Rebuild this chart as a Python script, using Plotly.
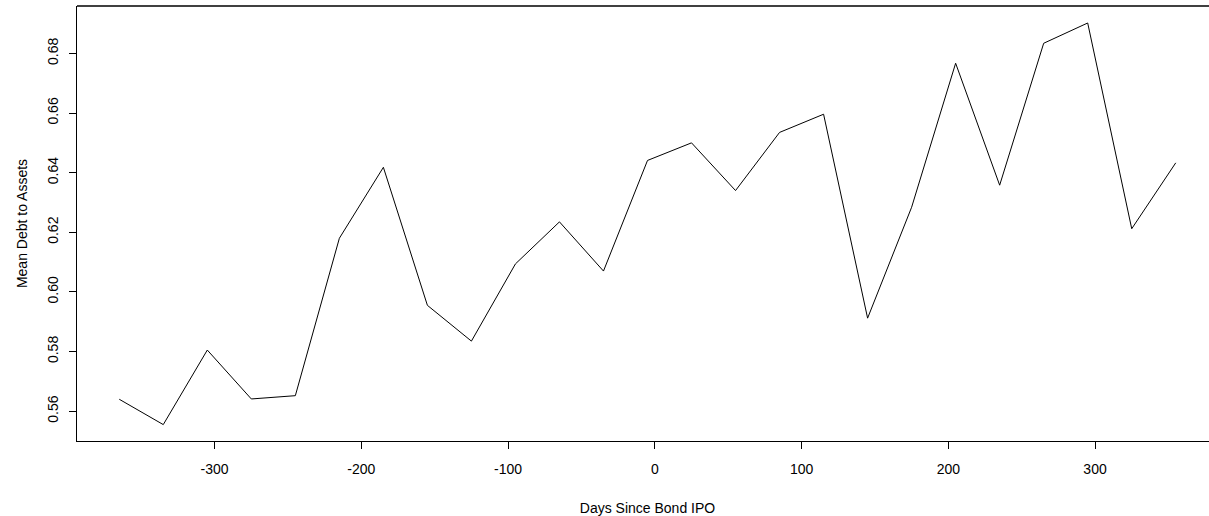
import plotly.graph_objects as go

days = [-365, -335, -305, -275, -245, -215, -185, -155, -125, -95, -65, -35,
        -5, 25, 55, 85, 115, 145, 175, 205, 235, 265, 295, 325, 355]
mean_debt_to_assets = [0.5640, 0.5555, 0.5805, 0.5641, 0.5652, 0.6180, 0.6418,
                       0.5955, 0.5835, 0.6094, 0.6235, 0.6070, 0.6441, 0.6500,
                       0.6340, 0.6535, 0.6596, 0.5912, 0.6284, 0.6767, 0.6358,
                       0.6834, 0.6902, 0.6212, 0.6433]
x_ticks = [-300, -200, -100, 0, 100, 200, 300]
x_tick_labels = ["-300", "-200", "-100", "0", "100", "200", "300"]
y_ticks = [0.56, 0.58, 0.60, 0.62, 0.64, 0.66, 0.68]
y_tick_labels = ["0.56", "0.58", "0.60", "0.62", "0.64", "0.66", "0.68"]

FONT = "Liberation Sans, Arial, sans-serif"

fig = go.Figure()
fig.add_trace(go.Scatter(
    x=days, y=mean_debt_to_assets, mode="lines",
    line=dict(color="black", width=1), showlegend=False, hoverinfo="skip"))

# The plot box extends past the 1209 px window (as in the original), so the
# right border is clipped off-screen; top border drawn as a paper-line.
fig.add_shape(type="line", xref="paper", yref="paper", x0=0, x1=1, y0=1, y1=1,
              line=dict(color="black", width=1.3), layer="above")

fig.update_layout(
    width=1218, height=516,
    margin=dict(l=77, r=0, t=6, b=75, pad=0),
    paper_bgcolor="white", plot_bgcolor="white",
    font=dict(family=FONT, size=14, color="black"),
    xaxis=dict(
        range=[-393.8, 383.8], tickmode="array", tickvals=x_ticks,
        ticktext=x_tick_labels, ticks="outside", ticklen=7, tickwidth=1,
        tickcolor="black", showline=True, linecolor="black", linewidth=1.3,
        mirror=False, showgrid=False, zeroline=False, automargin=False,
        ticklabelstandoff=8,
        title=dict(text="Days Since Bond IPO", standoff=29,
                   font=dict(size=14, family=FONT))),
    yaxis=dict(
        range=[0.5500, 0.6959], tickmode="array", tickvals=y_ticks,
        ticktext=y_tick_labels, ticks="outside", ticklen=7, tickwidth=1,
        tickcolor="black", showline=True, linecolor="black", linewidth=1.3,
        mirror=False, showgrid=False, zeroline=False, tickangle=-90,
        automargin=False, ticklabelstandoff=5,
        title=dict(text="Mean Debt to Assets", standoff=14,
                   font=dict(size=14, family=FONT))),
)

fig.write_html(
    "out.html",
    config={"displayModeBar": False},
    post_script=("document.documentElement.style.overflow='hidden';"
                 "document.body.style.margin='0';"
                 "document.body.style.overflow='hidden';"),
)
